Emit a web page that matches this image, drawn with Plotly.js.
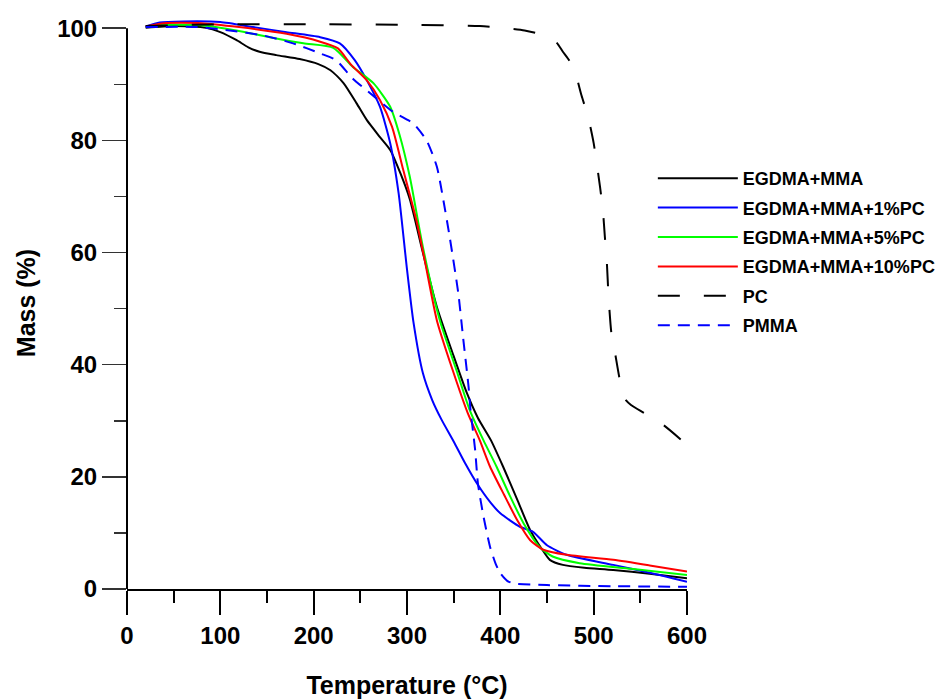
<!DOCTYPE html>
<html>
<head>
<meta charset="utf-8">
<script src="https://cdn.plot.ly/plotly-3.0.1.min.js"></script>
<style>html,body{margin:0;padding:0;background:#fff}#chart{width:943px;height:700px}</style>
</head>
<body>
<div id="chart"></div>
<script>
// Series names
const seriesNames = ["EGDMA+MMA", "EGDMA+MMA+1%PC", "EGDMA+MMA+5%PC", "EGDMA+MMA+10%PC", "PC", "PMMA"];

// EGDMA+MMA
const egdmaX = [20, 50, 85, 100, 117, 130, 142, 160, 185, 205, 218, 232, 246, 257, 271, 282, 293, 303, 317, 332, 349, 364, 376, 390, 403, 418, 432, 445, 453, 467, 490, 521, 560, 600];
const egdmaY = [100.1, 100.4, 100.1, 99.3, 97.9, 96.6, 95.8, 95.2, 94.5, 93.6, 92.5, 90.2, 86.6, 83.6, 80.6, 78.3, 74.1, 69.5, 60, 50.3, 42, 35, 30.5, 26.5, 21.8, 16, 10.5, 7, 5.2, 4.3, 3.8, 3.4, 2.7, 1.9];

// EGDMA+MMA+1%PC
const pc1X = [20, 35, 60, 100, 135, 171, 207, 228, 244, 257, 271, 282, 291, 300, 307, 317, 327, 337, 350, 362, 375, 390, 400, 421, 435, 450, 471, 521, 560, 600];
const pc1Y = [100.3, 101, 101.2, 101.1, 100.2, 99.3, 98.4, 97.3, 94.3, 90.7, 86, 79.5, 70.6, 57, 47.5, 38.5, 33.7, 30.2, 26.3, 22.5, 18.8, 15.3, 13.5, 11.1, 10.2, 7.8, 6.1, 4.3, 2.9, 1.3];

// EGDMA+MMA+5%PC
const pc5X = [20, 40, 82, 117, 153, 189, 221, 242, 264, 282, 292, 303, 317, 335, 353, 367, 382, 396, 410, 425, 442, 456, 485, 540, 600];
const pc5Y = [100.2, 100.6, 100.5, 99.6, 98.4, 97.3, 96.5, 93.1, 90.2, 86, 81, 73.5, 61, 48, 39, 32, 26.5, 21.8, 16.7, 11.7, 7.5, 5.8, 4.6, 3.6, 2.5];

// EGDMA+MMA+10%PC
const pc10X = [20, 40, 80, 120, 171, 207, 226, 240, 257, 271, 284, 296, 310, 319, 332, 349, 365, 378, 389, 404, 418, 432, 446, 471, 521, 560, 600];
const pc10Y = [100.3, 100.9, 100.9, 100.2, 99, 97.6, 96.4, 93.5, 90.7, 87.2, 82.4, 74.7, 65.8, 58.6, 47.9, 39, 31.4, 26.5, 21.8, 16.8, 12.3, 8.7, 7, 6.1, 5.2, 4.2, 3.1];

// PC
const pcX = [20, 100, 200, 300, 378, 400, 426, 448, 460, 467, 474, 480, 487, 494, 500, 507, 510, 512, 514, 516, 519, 523, 528, 533, 540, 555, 575, 600];
const pcY = [100.4, 100.7, 100.7, 100.6, 100.4, 100.1, 99.6, 98.7, 97.5, 95.8, 94.2, 92.2, 88, 84.2, 79.5, 71.5, 67.3, 62.8, 58.6, 52, 45.6, 42, 37.3, 34.0, 32.8, 31.3, 29.2, 25.7];

// PMMA
const pmmaX = [20, 75, 110, 146, 178, 207, 224, 242, 265, 285, 300, 307, 321, 332, 339, 346, 355, 360, 366, 368, 373, 376, 382, 389, 395, 400, 407, 414, 450, 520, 600];
const pmmaY = [100.2, 100.2, 99.6, 98.7, 97.3, 95.5, 94.3, 91, 87.8, 85.1, 83.7, 83, 80, 75.3, 69.3, 62.5, 52.7, 45, 36, 32, 24.8, 18.8, 12.9, 7.5, 4.5, 2.8, 1.5, 1, 0.7, 0.5, 0.4];

const xTicks = [0, 100, 200, 300, 400, 500, 600];
const yTicks = [0, 20, 40, 60, 80, 100];

const FONT = "Liberation Sans, Arial, sans-serif";
function tr(i, x, y, color, dash) {
  return {x: x, y: y, name: seriesNames[i], legendgroup: 'g' + i, type: 'scatter', mode: 'lines',
    line: {color: color, width: 2, dash: dash || 'solid', shape: 'spline', smoothing: 0.6}};
}
const data = [
  tr(0, egdmaX, egdmaY, '#000000'),
  tr(1, pc1X, pc1Y, '#0000ff'),
  tr(2, pc5X, pc5Y, '#00ff00'),
  tr(3, pc10X, pc10Y, '#ff0000'),
  tr(4, pcX, pcY, '#000000', '22px,24px'),
  tr(5, pmmaX, pmmaY, '#0000ff', '12px,8px')
];

const layout = {
  width: 943, height: 700,
  paper_bgcolor: '#ffffff', plot_bgcolor: '#ffffff',
  margin: {l: 127, r: 256, t: 17, b: 111, autoexpand: false},
  font: {family: FONT, color: '#000'},
  showlegend: true,
  legend: {x: 0.939, y: 0.750, xanchor: 'left', yanchor: 'top', bgcolor: 'rgba(0,0,0,0)',
    font: {family: FONT, size: 18, color: '#000', weight: 'bold'}, itemwidth: 80, tracegroupgap: 3},
  xaxis: {
    range: [0, 600], tickvals: xTicks, ticktext: xTicks.map(String),
    showgrid: false, zeroline: false, showline: true, linecolor: '#000', linewidth: 2,
    ticks: 'outside', ticklen: 24, tickwidth: 2, tickcolor: '#000',
    minor: {dtick: 50, tick0: 0, ticks: 'outside', ticklen: 12, tickwidth: 2, tickcolor: '#000', showgrid: false},
    tickfont: {family: FONT, size: 24, color: '#000', weight: 'bold'},
    title: {text: 'Temperature (°C)', font: {family: FONT, size: 25, color: '#000', weight: 'bold'}, standoff: 29}
  },
  yaxis: {
    range: [0, 102], tickvals: yTicks, ticktext: yTicks.map(String),
    showgrid: false, zeroline: false, showline: false,
    ticks: 'outside', ticklen: 24, tickwidth: 1.5, tickcolor: '#333',
    minor: {dtick: 10, tick0: 0, ticks: 'outside', ticklen: 12, tickwidth: 1.5, tickcolor: '#333', showgrid: false},
    tickfont: {family: FONT, size: 24, color: '#000', weight: 'bold'},
    title: {text: 'Mass (%)', font: {family: FONT, size: 25, color: '#000', weight: 'bold'}, standoff: 14}
  },
  shapes: [
    {type: 'line', xref: 'paper', yref: 'y', x0: 0, x1: 0, y0: 0, y1: 100, line: {color: '#000', width: 2}, layer: 'above'}
  ]
};
Plotly.newPlot('chart', data, layout, {displayModeBar: false, staticPlot: true});
</script>
</body>
</html>
